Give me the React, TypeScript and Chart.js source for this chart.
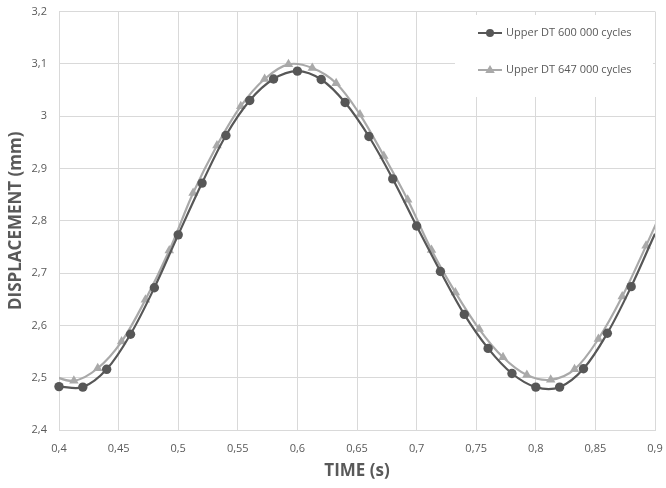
import React, { useEffect, useRef } from "react";
import { Chart, registerables } from "chart.js";

Chart.register(...registerables);

const timeDark = [0.40, 0.42, 0.44, 0.46, 0.48, 0.50, 0.52, 0.54, 0.56, 0.58, 0.60, 0.62, 0.64, 0.66, 0.68, 0.70, 0.72, 0.74, 0.76, 0.78, 0.80, 0.82, 0.84, 0.86, 0.88, 0.90, 0.92];
const dispDark = [2.483, 2.482, 2.516, 2.583, 2.672, 2.773, 2.872, 2.963, 3.030, 3.071, 3.086, 3.070, 3.026, 2.961, 2.880, 2.790, 2.703, 2.621, 2.556, 2.508, 2.482, 2.482, 2.517, 2.585, 2.674, 2.775, 2.872];

const timeLight = [0.3925, 0.4125, 0.4325, 0.4525, 0.4725, 0.4925, 0.5125, 0.5325, 0.5525, 0.5725, 0.5925, 0.6125, 0.6325, 0.6525, 0.6725, 0.6925, 0.7125, 0.7325, 0.7525, 0.7725, 0.7925, 0.8125, 0.8325, 0.8525, 0.8725, 0.8925, 0.9125];
const dispLight = [2.505, 2.494, 2.518, 2.569, 2.649, 2.743, 2.853, 2.944, 3.019, 3.071, 3.099, 3.092, 3.063, 3.003, 2.924, 2.840, 2.744, 2.663, 2.593, 2.539, 2.505, 2.496, 2.516, 2.574, 2.655, 2.752, 2.853];

const seriesNames = ["Upper DT 600 000 cycles", "Upper DT 647 000 cycles"];
const xTitle = "TIME (s)";
const yTitle = "DISPLACEMENT (mm)";

const DARK = "#575757";
const LIGHT = "#a9a9a9";
const GRID = "#d9d9d9";
const TEXT = "#595959";
const FONT = "'Open Sans', 'Noto Sans', sans-serif";

const fmt = (v: number, d: number) => String(Number(v.toFixed(d))).replace(".", ",");

const insideLegend = {
  id: "insideLegend",
  afterDatasetsDraw(chart: any) {
    const ctx = chart.ctx as CanvasRenderingContext2D;
    const a = chart.chartArea;
    const x0 = a.right - 200;
    const y0 = a.top + 3.5;
    ctx.save();
    ctx.fillStyle = "#ffffff";
    ctx.fillRect(x0, y0, 198, 82);
    chart.data.datasets.forEach((ds: any, i: number) => {
      const y = y0 + 18 + i * 37;
      const lx = x0 + 23;
      ctx.strokeStyle = ds.borderColor;
      ctx.lineWidth = 2;
      ctx.beginPath();
      ctx.moveTo(lx, y);
      ctx.lineTo(lx + 24, y);
      ctx.stroke();
      ctx.fillStyle = ds.backgroundColor;
      const cx = lx + 12;
      if (ds.pointStyle === "triangle") {
        const r = 5;
        ctx.beginPath();
        ctx.moveTo(cx, y - r);
        ctx.lineTo(cx + r * 0.95, y + r * 0.6);
        ctx.lineTo(cx - r * 0.95, y + r * 0.6);
        ctx.closePath();
        ctx.fill();
      } else {
        ctx.beginPath();
        ctx.arc(cx, y, 4, 0, Math.PI * 2);
        ctx.fill();
      }
      ctx.fillStyle = TEXT;
      ctx.font = `11px ${FONT}`;
      ctx.textBaseline = "middle";
      ctx.textAlign = "left";
      ctx.fillText(ds.label, lx + 28, y);
    });
    ctx.restore();
  },
};

export default function App() {
  const ref = useRef<HTMLCanvasElement | null>(null);
  useEffect(() => {
    if (!ref.current) return;
    const chart = new Chart(ref.current, {
      type: "line",
      data: {
        datasets: [
          {
            label: seriesNames[0],
            data: timeDark.map((t, i) => ({ x: t, y: dispDark[i] })),
            borderColor: DARK,
            backgroundColor: DARK,
            borderWidth: 2.2,
            pointStyle: "circle",
            pointRadius: (c: any) => (timeDark[c.dataIndex] > 0.895 ? 0 : 4.7),
            pointBorderWidth: 0,
            tension: 0.35,
            clip: { left: 8, right: 0, top: 8, bottom: 8 } as any,
          },
          {
            label: seriesNames[1],
            data: timeLight.map((t, i) => ({ x: t, y: dispLight[i] })),
            borderColor: LIGHT,
            backgroundColor: LIGHT,
            borderWidth: 2.2,
            pointStyle: "triangle",
            pointRadius: 5.5,
            pointBorderWidth: 0,
            tension: 0.35,
            clip: { left: 0, right: 0, top: 8, bottom: 8 } as any,
          },
        ],
      },
      options: {
        animation: false,
        responsive: true,
        maintainAspectRatio: false,
        layout: { padding: { top: 11.5, right: 11, left: 0, bottom: 0 } },
        plugins: { legend: { display: false }, tooltip: { enabled: false } },
        scales: {
          x: {
            type: "linear",
            min: 0.4,
            max: 0.9,
            afterFit: (s: any) => { s.height = 58; },
            ticks: {
              stepSize: 0.05,
              color: TEXT,
              font: { family: FONT, size: 11 },
              padding: 0,
              maxRotation: 0,
              callback: (v: any) => fmt(Number(v), 2),
            },
            grid: { color: GRID, drawTicks: true, tickLength: 12, tickColor: "rgba(0,0,0,0)" },
            border: { color: GRID },
            title: {
              display: true,
              text: xTitle,
              color: TEXT,
              font: { family: FONT, size: 17, weight: "bold" },
              padding: { top: 4, bottom: 7 },
            },
          },
          y: {
            min: 2.4,
            max: 3.2,
            afterFit: (s: any) => { s.width = 59; },
            ticks: {
              stepSize: 0.1,
              color: TEXT,
              font: { family: FONT, size: 11 },
              padding: 0,
              callback: (v: any) => fmt(Number(v), 1),
            },
            grid: { color: GRID, drawTicks: true, tickLength: 12, tickColor: "rgba(0,0,0,0)" },
            border: { color: GRID },
            title: {
              display: true,
              text: yTitle,
              color: TEXT,
              font: { family: FONT, size: 17, weight: "bold" },
              padding: { top: 6, bottom: 4 },
            },
          },
        },
      },
      plugins: [insideLegend],
    });
    return () => chart.destroy();
  }, []);
  return (
    <div style={{ position: "fixed", left: 0, top: 0, width: 666, height: 488, background: "#fff" }}>
      <canvas ref={ref} />
    </div>
  );
}
